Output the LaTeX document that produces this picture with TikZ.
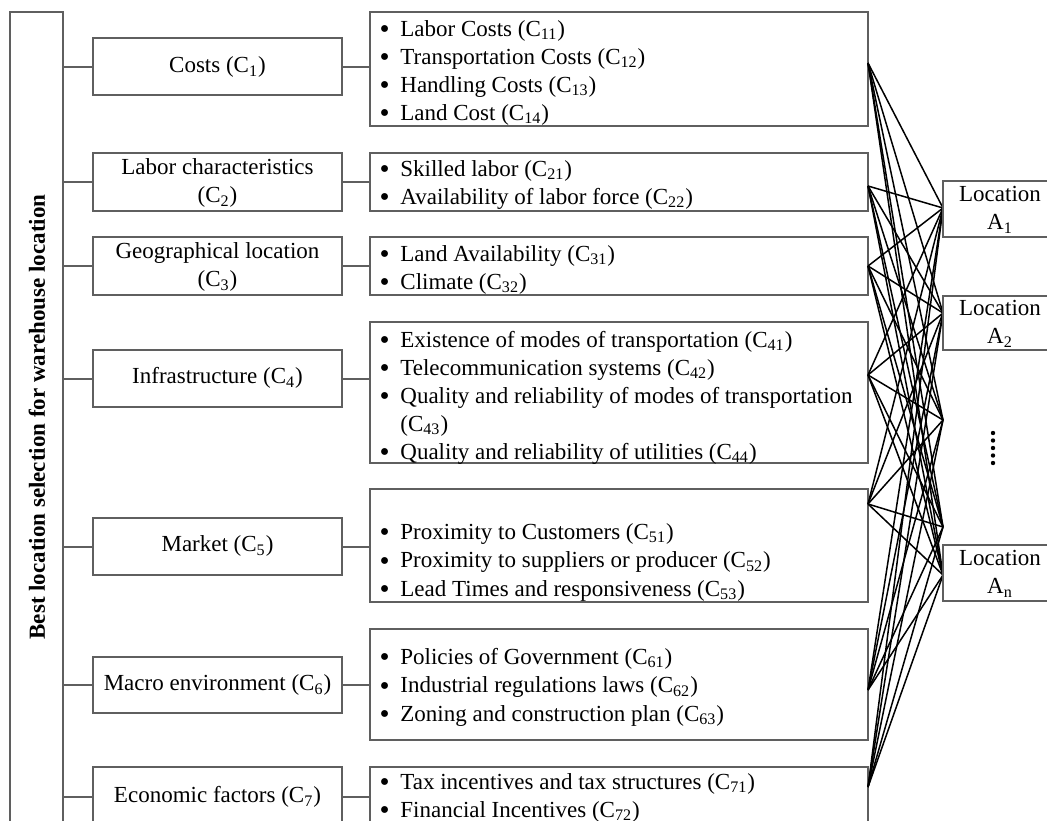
\documentclass[tikz,border=0pt]{standalone}
\usepackage{fontspec}
\setmainfont{Liberation Serif}
\usetikzlibrary{fit}
\definecolor{boxgray}{RGB}{95,95,95}
\newcommand{\bul}{\makebox[11pt][l]{\hspace{0.6pt}\raisebox{-1.3pt}{\scalebox{1.25}{\textbullet}}}}
\newcommand{\ind}{\makebox[11pt][l]{}}
\newcommand{\sub}[1]{\textsubscript{#1}}
\begin{document}
\begin{tikzpicture}[x=0.5pt,y=-0.5pt,
  box/.style={draw=boxgray, line width=0.9pt, rectangle, inner sep=0pt, fill=white},
  conn/.style={draw=boxgray, line width=1pt},
  fan/.style={draw=black, line width=0.75pt},
  ctxt/.style={inner sep=0pt, align=center, font=\fontsize{11.5}{14}\selectfont},
  lst/.style={inner sep=0pt, anchor=base west, font=\fontsize{11.5}{14}\selectfont}]
\useasboundingbox (0,0) rectangle (1047,820);
\clip (0,0) rectangle (1047,820);

% root box
\node[box, fit={(10,12) (63,840)}] (root) {};
\node[rotate=90, inner sep=0pt, font=\fontsize{11.5}{14}\selectfont\bfseries] (title) at (37,417) {Best location selection for warehouse location};

% criteria boxes
\node[box, fit={(93,38) (342,95)}] (c1) {};
\node[box, fit={(93,153) (342,211)}] (c2) {};
\node[box, fit={(93,237) (342,295)}] (c3) {};
\node[box, fit={(93,350) (342,407)}] (c4) {};
\node[box, fit={(93,518) (342,575)}] (c5) {};
\node[box, fit={(93,657) (342,713)}] (c6) {};
\node[box, fit={(93,767) (342,840)}] (c7) {};
\node[ctxt] (c1t) at (217.5,67) {Costs (C\sub{1})};
\node[ctxt] (c2t) at (217.5,183) {Labor characteristics\\(C\sub{2})};
\node[ctxt] (c3t) at (217.5,267) {Geographical location\\(C\sub{3})};
\node[ctxt] (c4t) at (217.5,378) {Infrastructure (C\sub{4})};
\node[ctxt] (c5t) at (217.5,546) {Market (C\sub{5})};
\node[ctxt] (c6t) at (217.5,685) {Macro environment (C\sub{6})};
\node[ctxt] (c7t) at (217.5,797) {Economic factors (C\sub{7})};

% sub-criteria boxes
\node[box, fit={(370,12) (868,126)}] (s1) {};
\node[box, fit={(370,153) (868,211)}] (s2) {};
\node[box, fit={(370,237) (868,295)}] (s3) {};
\node[box, fit={(370,322) (868,463)}] (s4) {};
\node[box, fit={(370,489) (868,602)}] (s5) {};
\node[box, fit={(370,629) (868,740)}] (s6) {};
\node[box, fit={(370,767) (868,840)}] (s7) {};

\node[lst] (s1t) at (378,36) {\begin{tabular}[t]{@{}l@{}}
\bul Labor Costs (C\sub{11})\\
\bul Transportation Costs (C\sub{12})\\
\bul Handling Costs (C\sub{13})\\
\bul Land Cost (C\sub{14})\end{tabular}};
\node[lst] (s2t) at (378,176) {\begin{tabular}[t]{@{}l@{}}
\bul Skilled labor (C\sub{21})\\
\bul Availability of labor force (C\sub{22})\end{tabular}};
\node[lst] (s3t) at (378,261) {\begin{tabular}[t]{@{}l@{}}
\bul Land Availability (C\sub{31})\\
\bul Climate (C\sub{32})\end{tabular}};
\node[lst] (s4t) at (378,347) {\begin{tabular}[t]{@{}l@{}}
\bul Existence of modes of transportation (C\sub{41})\\
\bul Telecommunication systems (C\sub{42})\\
\bul Quality and reliability of modes of transportation\\
\ind (C\sub{43})\\
\bul Quality and reliability of utilities (C\sub{44})\end{tabular}};
\node[lst] (s5t) at (378,539) {\begin{tabular}[t]{@{}l@{}}
\bul Proximity to Customers (C\sub{51})\\[0.25pt]
\bul Proximity to suppliers or producer (C\sub{52})\\[0.25pt]
\bul Lead Times and responsiveness (C\sub{53})\end{tabular}};
\node[lst] (s6t) at (378,664) {\begin{tabular}[t]{@{}l@{}}
\bul Policies of Government (C\sub{61})\\[0.25pt]
\bul Industrial regulations laws (C\sub{62})\\[0.25pt]
\bul Zoning and construction plan (C\sub{63})\end{tabular}};
\node[lst] (s7t) at (378,789) {\begin{tabular}[t]{@{}l@{}}
\bul Tax incentives and tax structures (C\sub{71})\\
\bul Financial Incentives (C\sub{72})\end{tabular}};

% trunk connectors
\foreach \c in {c1,c2,c3,c4,c5,c6}
  \draw[conn] (\c.west -| root.east) -- (\c.west);
\foreach \c/\s in {c1/s1,c2/s2,c3/s3,c4/s4,c5/s5,c6/s6}
  \draw[conn] (\c.east) -- (\c.east -| \s.west);
\draw[conn] (c7t -| root.east) -- (c7t -| c7.west);
\draw[conn] (c7t -| c7.east) -- (c7t -| s7.west);

% fan endpoints
\coordinate (f1) at (868,63);
\coordinate (f2) at (868,186);
\coordinate (f3) at (868,266);
\coordinate (f4) at (868,375);
\coordinate (f5) at (868,504);
\coordinate (f6) at (868,690);
\coordinate (f7) at (868,787);
\coordinate (g1) at (943,208);
\coordinate (g2) at (943,313);
\coordinate (g3) at (943,420);
\coordinate (g4) at (943,527);
\coordinate (g5) at (943,575);
\foreach \s in {f1,f2,f3,f4,f5,f6,f7}
  \foreach \t in {g1,g2,g3,g4,g5}
    \draw[fan] (\s) -- (\t);

% locations
\node[box, fit={(943,181) (1060,237)}] (a1) {};
\node[ctxt] (a1t) at (1000,210) {Location\\A\sub{1}};
\node[box, fit={(943,296) (1060,350)}] (a2) {};
\node[ctxt] (a2t) at (1000,324) {Location\\A\sub{2}};
\node[box, fit={(943,545) (1060,601)}] (an) {};
\node[ctxt] (ant) at (1000,574) {Location\\A\sub{n}};
\foreach \k in {0,...,4}
  \fill (993,{433+7.5*\k}) circle (1.1pt);
\end{tikzpicture}
\end{document}
